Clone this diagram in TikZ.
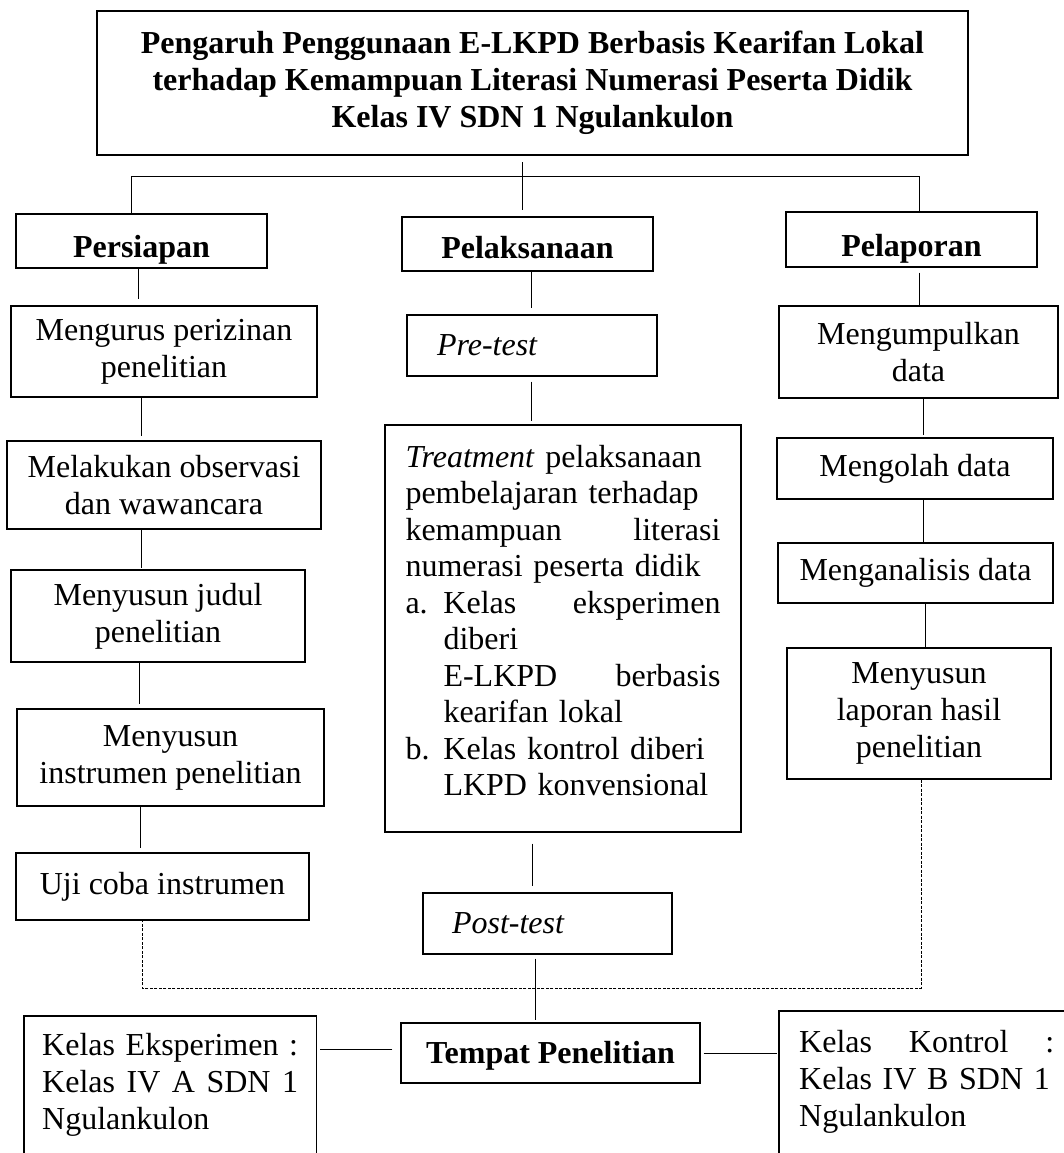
\documentclass[tikz,border=0pt]{standalone}
\usepackage{fontspec}
\setmainfont{Liberation Serif}
\usetikzlibrary{calc}
\newcommand\fsz{\fontsize{32}{37}\selectfont}
\newcommand\jline[1]{\leavevmode\hbox to\linewidth{#1}}
\tikzset{
  box/.style={draw, line width=1.1pt, inner sep=0pt, align=center, font=\fsz},
  openbox/.style={inner ysep=0pt, inner xsep=18pt, align=left, font=\fsz},
  boxline/.style={line width=1.1pt},
  conn/.style={line width=1pt},
  dsh/.style={line width=1pt, dash pattern=on 3pt off 1.5pt},
}
\begin{document}
\begin{tikzpicture}[x=1pt,y=-1pt]
\useasboundingbox (0,0) rectangle (1064,1153);
\fill[white] (0,0) rectangle (1064,1153);

% title
\node[box, line width=2pt, minimum width=871, minimum height=144, font=\fsz\bfseries] (title) at (532.5,83)
  {Pengaruh Penggunaan E-LKPD Berbasis Kearifan Lokal\\terhadap Kemampuan Literasi Numerasi Peserta Didik\\Kelas IV SDN 1 Ngulankulon};

% phase boxes
\node[box, minimum width=251, minimum height=54, font=\fsz\bfseries, text height=34pt, text depth=2pt] (persiapan) at (141.5,241) {Persiapan};
\node[box, minimum width=251, minimum height=54, font=\fsz\bfseries, text height=30pt, text depth=2pt] (pelaks) at (527.5,244) {Pelaksanaan};
\node[box, minimum width=251, minimum height=55, font=\fsz\bfseries, text height=35pt, text depth=2pt] (pelapor) at (911.5,239.5) {Pelaporan};

% left column
\node[box, minimum width=306, minimum height=91] (mengurus) at (164,351.5) {Mengurus perizinan\\penelitian};
\node[box, minimum width=314, minimum height=88] (melakukan) at (164,485) {Melakukan observasi\\dan wawancara};
\node[box, minimum width=294, minimum height=92] (judul) at (158,616) {Menyusun judul\\penelitian};
\node[box, minimum width=307, minimum height=97] (instrumen) at (170.5,757.5) {Menyusun\\instrumen penelitian};
\node[box, minimum width=293, minimum height=67] (uji) at (162.5,886.5) {Uji coba instrumen};

% middle column
\node[box, minimum width=250, minimum height=61, inner xsep=30pt, text width=190pt, align=left] (pretest) at (532,345.5) {\textit{Pre-test}};
\node[box, minimum width=356, minimum height=407, inner xsep=20.5pt, text width=315pt, align=left,
      font=\fontsize{32}{36.5}\selectfont, text depth=345pt] (treat) at (563,628.5)
  {\textit{Treatment} pelaksanaan\\
   pembelajaran terhadap\\
   \jline{kemampuan\hfill literasi}\\
   numerasi peserta didik\\
   \jline{\makebox[38pt][l]{a.}Kelas\hfill eksperimen}\\
   \hspace*{38pt}diberi\\
   \jline{\hspace*{38pt}E-LKPD\hfill berbasis}\\
   \hspace*{38pt}kearifan lokal\\
   \makebox[38pt][l]{b.}Kelas kontrol diberi\\
   \hspace*{38pt}LKPD konvensional};
\node[box, minimum width=249, minimum height=61, inner xsep=29pt, text width=191pt, align=left] (posttest) at (547.5,923.5) {\textit{Post-test}};

% right column
\node[box, minimum width=279, minimum height=92] (kumpul) at (918.5,352) {Mengumpulkan\\data};
\node[box, minimum width=276, minimum height=61] (olah) at (915,468.5) {Mengolah data};
\node[box, minimum width=275, minimum height=60] (analisis) at (915.5,573) {Menganalisis data};
\node[box, minimum width=264, minimum height=131] (laporan) at (919,713.5) {Menyusun\\laporan hasil\\penelitian};

% bottom row
\node[box, minimum width=299, minimum height=60, font=\fsz\bfseries, text height=24pt, text depth=4pt] (tempat) at (550.5,1053) {Tempat Penelitian};
\node[openbox, text width=256pt, minimum height=137, anchor=north west] (eksp) at (24,1016)
  {\mbox{Kelas Eksperimen :}\\\jline{Kelas\hfill IV\hfill A\hfill SDN\hfill 1}\\Ngulankulon};
\node[openbox, text width=255pt, minimum height=142, anchor=north west, inner xsep=20pt] (kontrol) at (779,1011)
  {\jline{Kelas\hfill Kontrol\hfill :}\\\mbox{Kelas IV B SDN 1}\\Ngulankulon};
\draw[boxline] (eksp.south west) -- (eksp.north west) -- (eksp.north east) -- (eksp.south east);
\draw[boxline] (kontrol.south west) -- (kontrol.north west) -- ([xshift=20pt]kontrol.north east);

% connectors
\coordinate (hubL) at (131,176);
\coordinate (hubR) at (919,176);
\draw[conn, shorten <=6pt, shorten >=6pt] ([xshift=-10.5pt]title.south) -- ([xshift=-10.5pt]title.south |- pelaks.north);
\draw[conn] (hubL |- persiapan.north) -- (hubL) -- (hubR) -- (hubR |- pelapor.north);

\draw[conn, shorten >=6pt] ([xshift=-3.5pt]persiapan.south) -- ([xshift=-3.5pt]persiapan.south |- mengurus.north);
\draw[conn, shorten >=4pt] ([xshift=-23pt]mengurus.south) -- ([xshift=-23pt]mengurus.south |- melakukan.north);
\draw[conn, shorten >=1pt] ([xshift=-23pt]melakukan.south) -- ([xshift=-23pt]melakukan.south |- judul.north);
\draw[conn, shorten >=4pt] ([xshift=-19pt]judul.south) -- ([xshift=-19pt]judul.south |- instrumen.north);
\draw[conn, shorten >=4pt] ([xshift=-30.5pt]instrumen.south) -- ([xshift=-30.5pt]instrumen.south |- uji.north);

\draw[conn, shorten >=6pt] ([xshift=3.5pt]pelaks.south) -- ([xshift=3.5pt]pelaks.south |- pretest.north);
\draw[conn, shorten <=5pt, shorten >=3pt] ([xshift=-1pt]pretest.south) -- ([xshift=-1pt]pretest.south |- treat.north);
\draw[conn, shorten <=11pt, shorten >=6pt] ([xshift=-31pt]treat.south) -- ([xshift=-31pt]treat.south |- posttest.north);
\draw[conn, shorten <=4pt, shorten >=2pt] ([xshift=-12.5pt]posttest.south) -- ([xshift=-12.5pt]posttest.south |- tempat.north);

\draw[conn, shorten <=5pt] ([xshift=7.5pt]pelapor.south) -- ([xshift=7.5pt]pelapor.south |- kumpul.north);
\draw[conn, shorten >=2pt] ([xshift=4.5pt]kumpul.south) -- ([xshift=4.5pt]kumpul.south |- olah.north);
\draw[conn] ([xshift=8pt]olah.south) -- ([xshift=8pt]olah.south |- analisis.north);
\draw[conn] ([xshift=9.5pt]analisis.south) -- ([xshift=9.5pt]analisis.south |- laporan.north);

% dashed link
\coordinate (dL) at (142,988);
\draw[dsh] ([xshift=2pt]laporan.south) |- (dL) -- (dL |- uji.south);

% bottom links
\draw[conn, shorten <=8pt, shorten >=4pt] ([yshift=4pt]tempat.west) -- ([yshift=4pt]tempat.west -| eksp.east);
\draw[conn, shorten <=3pt, shorten >=2pt] (tempat.east) -- (tempat.east -| kontrol.west);
\end{tikzpicture}
\end{document}
